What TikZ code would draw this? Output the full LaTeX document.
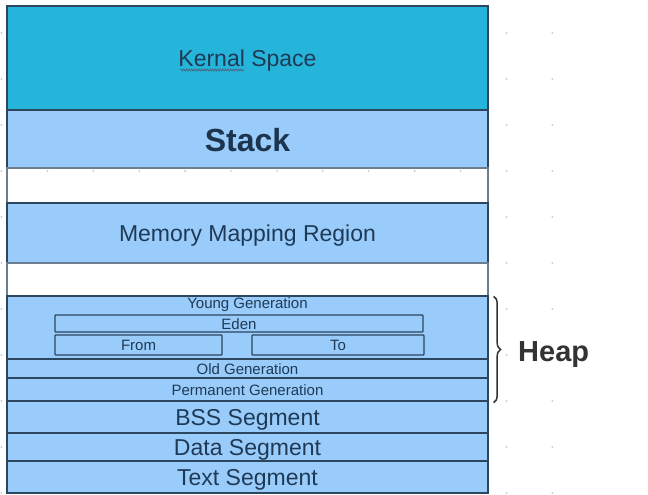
\documentclass[tikz,border=0pt]{standalone}
\usepackage{fontspec}
\setmainfont{Liberation Sans}
\usetikzlibrary{decorations.pathreplacing,decorations.pathmorphing}
\definecolor{kernelblue}{HTML}{25B5DB}
\definecolor{segblue}{HTML}{99CCFA}
\definecolor{edgecol}{HTML}{2C465E}
\definecolor{txtcol}{HTML}{1F3A56}
\definecolor{gridcol}{HTML}{BDBDBD}
\definecolor{bracecol}{HTML}{33332A}
\tikzset{
  seg/.style={draw=edgecol, line width=1.3pt, fill=segblue, rectangle, inner sep=0pt,
    minimum width=481pt, text=txtcol, font=\fontsize{23}{26}\selectfont,
    text height=17pt, text depth=0pt},
  smallseg/.style={seg, font=\fontsize{15}{17}\selectfont, text height=11.5pt, text depth=0pt},
  gapbox/.style={draw=edgecol!70, line width=1.1pt, rectangle, inner sep=0pt, minimum width=481pt},
  subbox/.style={draw=edgecol, line width=1.2pt, fill=segblue, rectangle, rounded corners=0.8pt,
    inner sep=0pt, text=txtcol, font=\fontsize{15}{17}\selectfont, text height=11.5pt, text depth=0pt},
  smalltxt/.style={text=txtcol, font=\fontsize{15}{17}\selectfont, inner sep=0pt},
  griddot/.style={fill=gridcol, circle, inner sep=0pt, minimum size=1.8pt}
}
\begin{document}
\begin{tikzpicture}[x=1pt,y=-1pt]
\useasboundingbox (0,0) rectangle (648,495);
\fill[white] (0,0) rectangle (648,495);
% faint background dot grid
\foreach \i in {0,...,12}{
  \foreach \j in {0,...,10}{
    \node[griddot] (g-\i-\j) at ({1.5+45.9*\i},{33+46*\j}) {};
  }
}
% segments
\node[seg, fill=kernelblue, minimum height=104pt] (kernel) at (247.5,58) {Kernal Space};
\node[seg, minimum height=58pt, font=\bfseries\fontsize{32}{36}\selectfont, text=txtcol!90!black,
  text height=24pt] (stack) at (247.5,139) {Stack};
\node[gapbox, minimum height=35pt] (gapA) at (247.5,185.5) {};
\node[seg, minimum height=60pt] (mmap) at (247.5,233) {Memory Mapping Region};
\node[gapbox, minimum height=33pt] (gapB) at (247.5,279.5) {};
\node[seg, minimum height=63pt] (young) at (247.5,327.5) {};
\node[smallseg, minimum height=19pt] (old) at (247.5,368.5) {Old Generation};
\node[smallseg, minimum height=23pt] (perm) at (247.5,389.5) {Permanent Generation};
\node[seg, minimum height=32pt] (bss) at (247.5,417) {BSS Segment};
\node[seg, minimum height=28pt] (data) at (247.5,447) {Data Segment};
\node[seg, minimum height=32pt] (textseg) at (247.5,477) {Text Segment};
% young generation internals
\node[smalltxt, anchor=base] (younglbl) at (247.5,308) {Young Generation};
\node[subbox, minimum width=368pt, minimum height=17pt] (eden) at (239,323.5) {Eden};
\node[subbox, minimum width=167pt, minimum height=20pt] (from) at (138.5,345) {From};
\node[subbox, minimum width=172pt, minimum height=20pt] (to) at (338,345) {To};
% spell-check wavy underline under "Kernal"
\draw[draw=txtcol!80, line width=0.7pt, decorate, decoration={snake, amplitude=1pt, segment length=2.6pt}]
  ([xshift=-67pt,yshift=-12pt]kernel.center) -- ([xshift=-3pt,yshift=-12pt]kernel.center);
% heap brace
\coordinate (btop) at ([xshift=5pt,yshift=-1pt]young.north east);
\coordinate (bbot) at ([xshift=5pt,yshift=-1pt]perm.south east);
\draw[bracecol, line width=1.5pt, decorate, decoration={brace, amplitude=7pt}] (btop) -- (bbot);
\node[font=\bfseries\fontsize{29}{32}\selectfont, text=black!80, anchor=base west, inner sep=0pt] (heap) at (518,361) {Heap};
\end{tikzpicture}
\end{document}
